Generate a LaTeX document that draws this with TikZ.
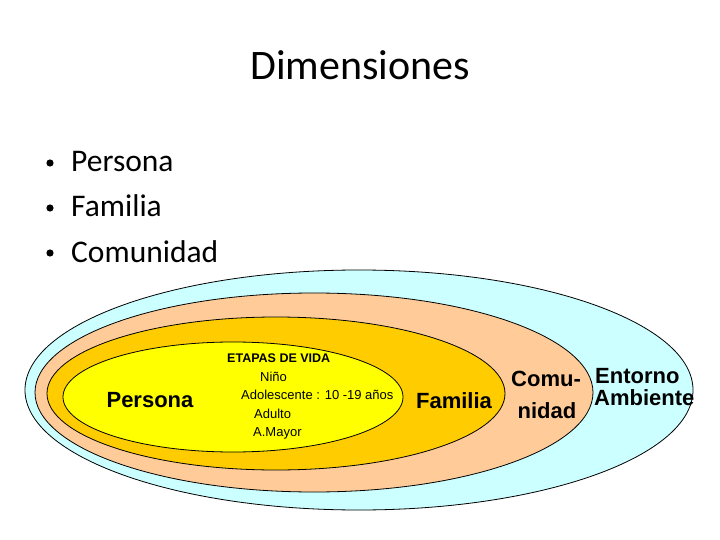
\documentclass[tikz,border=0pt]{standalone}
\usepackage{fontspec}
\setmainfont{Carlito}
\newfontfamily\arialfont{Liberation Sans}
\definecolor{entorno}{HTML}{CCFFFF}
\definecolor{comunidad}{HTML}{FFCC99}
\definecolor{familia}{HTML}{FFCC00}
\definecolor{persona}{HTML}{FFFF00}

\begin{document}
\begin{tikzpicture}[
  x=1pt, y=-1pt,
  ring/.style={draw=black, line width=0.8pt},
  big/.style={font=\arialfont\bfseries\fontsize{22}{24}\selectfont, inner sep=0pt},
  small/.style={font=\arialfont\fontsize{13}{15}\selectfont, anchor=base west, inner sep=0pt},
  item/.style={font=\fontsize{31.5}{34}\selectfont, anchor=base west, inner sep=0pt},
]
\useasboundingbox (0,0) rectangle (720,540);
\fill[white] (0,0) rectangle (720,540);
\def\sep{18.5}
% title and list
\node[font=\fontsize{42}{46}\selectfont, anchor=base, inner sep=0pt] (title) at (360, 80) {Dimensiones};
\foreach \txt [count=\i] in {Persona, Familia, Comunidad} {
  \fill (50, 163+45*\i-45) circle (3.6pt);
  \node[item] (item\i) at (71, 172+45*\i-45) {\txt};
}
% nested ellipses
\filldraw[ring, fill=entorno]   (359, 390)   ellipse [x radius=334pt, y radius=120pt];
\filldraw[ring, fill=comunidad] (314, 392.5) ellipse [x radius=279pt, y radius=99.5pt];
\filldraw[ring, fill=familia]   (276, 393.5) ellipse [x radius=229pt, y radius=76.5pt];
\filldraw[ring, fill=persona]   (233, 397)   ellipse [x radius=170pt, y radius=55pt];
% labels
\node[big, anchor=base] (persona) at (150, 407) {Persona};
\node[small, font=\arialfont\bfseries\fontsize{12.5}{15}\selectfont] (etapas) at (227, 362.5) {ETAPAS DE VIDA};
\node[small] (nino)   at (260, 362.5+\sep)   {Niño};
\node[small] (adol)   at (241, 362.5+2*\sep) {Adolescente : 10 -19 años};
\node[small] (adulto) at (254, 362.5+3*\sep) {Adulto};
\node[small] (mayor)  at (253, 362.5+4*\sep) {A.Mayor};
\node[big, anchor=base] (familia) at (454, 408) {Familia};
\node[big, anchor=base] (comu)    at (546, 386) {Comu-};
\node[big, anchor=base] (nidad)   at (547, 418) {nidad};
\node[big, anchor=base west] (entorno)  at (595, 383) {Entorno};
\node[big, anchor=base west] (ambiente) at (594, 405) {Ambiente};
\end{tikzpicture}
\end{document}
